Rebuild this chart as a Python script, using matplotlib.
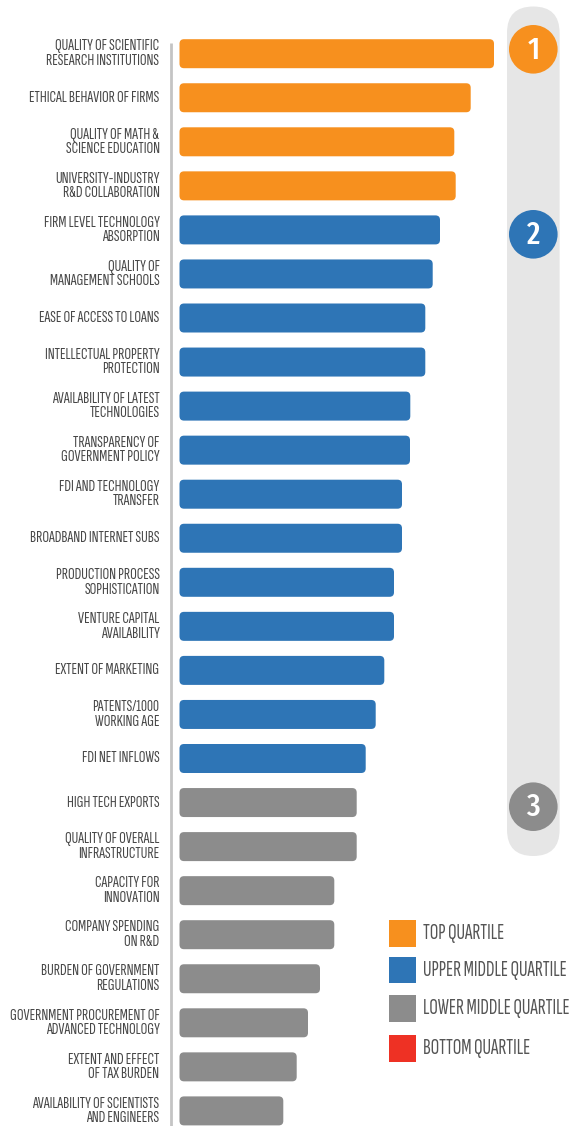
import matplotlib
matplotlib.use('agg')
import matplotlib.pyplot as plt
from matplotlib.patches import FancyBboxPatch, Circle, Rectangle

# indicator names, top to bottom
labels = [
    "QUALITY OF SCIENTIFIC\nRESEARCH INSTITUTIONS",
    "ETHICAL BEHAVIOR OF FIRMS",
    "QUALITY OF MATH &\nSCIENCE EDUCATION",
    "UNIVERSITY-INDUSTRY\nR&D COLLABORATION",
    "FIRM LEVEL TECHNOLOGY\nABSORPTION",
    "QUALITY OF\nMANAGEMENT SCHOOLS",
    "EASE OF ACCESS TO LOANS",
    "INTELLECTUAL PROPERTY\nPROTECTION",
    "AVAILABILITY OF LATEST\nTECHNOLOGIES",
    "TRANSPARENCY OF\nGOVERNMENT POLICY",
    "FDI AND TECHNOLOGY\nTRANSFER",
    "BROADBAND INTERNET SUBS",
    "PRODUCTION PROCESS\nSOPHISTICATION",
    "VENTURE CAPITAL\nAVAILABILITY",
    "EXTENT OF MARKETING",
    "PATENTS/1000\nWORKING AGE",
    "FDI NET INFLOWS",
    "HIGH TECH EXPORTS",
    "QUALITY OF OVERALL\nINFRASTRUCTURE",
    "CAPACITY FOR\nINNOVATION",
    "COMPANY SPENDING\nON R&D",
    "BURDEN OF GOVERNMENT\nREGULATIONS",
    "GOVERNMENT PROCUREMENT OF\nADVANCED TECHNOLOGY",
    "EXTENT AND EFFECT\nOF TAX BURDEN",
    "AVAILABILITY OF SCIENTISTS\nAND ENGINEERS",
]
scores = [314.5, 291.2, 274.8, 276.2, 260.5, 253.2, 245.8, 245.8, 230.8,
          230.5, 222.5, 222.5, 214.5, 214.5, 204.8, 196.2, 186.2, 177.2,
          177.2, 154.8, 154.8, 140.5, 128.5, 117.2, 103.8]
quartile = [1] * 4 + [2] * 13 + [3] * 8

legend_names = ["TOP QUARTILE", "UPPER MIDDLE QUARTILE",
                "LOWER MIDDLE QUARTILE", "BOTTOM QUARTILE"]
colors = {1: '#F7901E', 2: '#2E75B6', 3: '#8C8C8C', 4: '#EE3124'}

font = ['Sofia Sans Extra Condensed', 'Fira Sans Extra Condensed', 'DejaVu Sans']
digit_font = ['Fira Sans Extra Condensed', 'DejaVu Sans']
text_color = '#474747'

W, H = 580, 1126
fig = plt.figure(figsize=(W / 100, H / 100), dpi=100)
ax = fig.add_axes([0, 0, 1, 1])
ax.set_xlim(0, W)
ax.set_ylim(H, 0)
ax.axis('off')

x0 = 179.5
row0, step, bar_h = 53.7, 44.05, 29

# grey rail with the quartile markers
ax.add_patch(FancyBboxPatch((507 + 26.3, 6.5 + 26.3), 0, 849.5 - 52.6,
                            boxstyle='round,pad=26.3', fc='#E6E6E6', ec='none', zorder=0))
marker_rows = {1: 49.3, 2: 234.3, 3: 806.7}
for q, yc in marker_rows.items():
    ax.add_patch(Circle((533.3, yc), 24.3, fc=colors[q], ec='none', zorder=2))
    ax.text(533.3, yc + 1, str(q), color='white', fontsize=23, ha='center', va='center',
            family=digit_font, weight='medium', zorder=3)

# vertical axis line
ax.plot([170.7, 170.7], [42.5, H], color='#C4C4C4', lw=2, zorder=1, solid_capstyle='butt')

r = 4.5
for i, (lab, val, q) in enumerate(zip(labels, scores, quartile)):
    yc = row0 + i * step
    ax.add_patch(FancyBboxPatch((x0 + r, yc - bar_h / 2 + r), val - 2 * r, bar_h - 2 * r,
                                boxstyle=f'round,pad={r}', fc=colors[q], ec='none', zorder=2))
    ax.text(159.5, yc, lab, ha='right', va='center', fontsize=12, color=text_color,
            family=font, linespacing=1.05)

# legend
for k, name in enumerate(legend_names):
    top = [920, 956.7, 995, 1035][k]
    ax.add_patch(Rectangle((389, top), 26.7, 26.7, fc=colors[k + 1], ec='none'))
    ax.text(422.7, top + 13.5, name, ha='left', va='center', fontsize=15.3,
            color='#555555', family=font)

fig.savefig('out.png', dpi=100)
